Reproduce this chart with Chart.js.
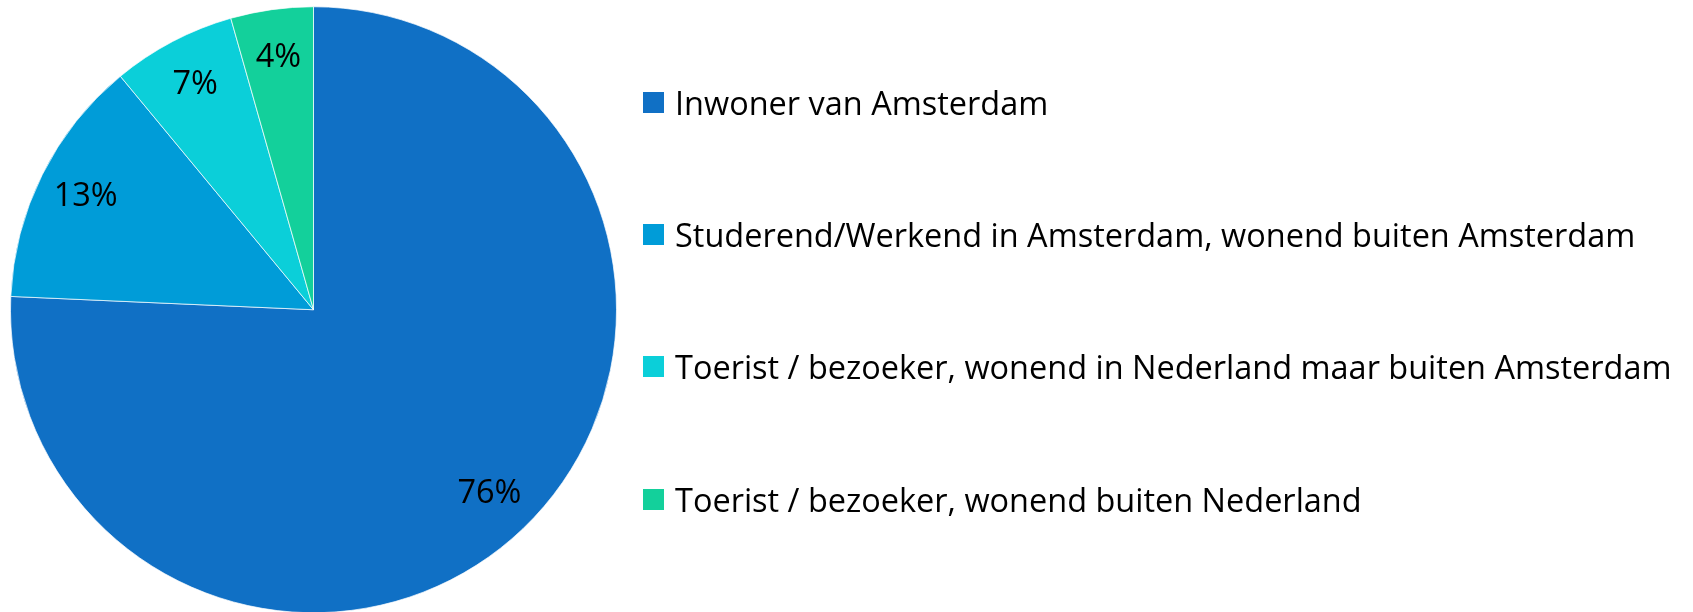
<!DOCTYPE html>
<html lang="nl">
<head>
  <meta charset="UTF-8" />
  <title>Herkomst respondenten</title>
  <style>
    html, body { margin: 0; padding: 0; background: #ffffff; }
    #wrap { position: relative; width: 1693px; height: 612px; }
    #legend { position: absolute; left: 0; top: 0; width: 100%; height: 100%; pointer-events: none; }
    .lg-item { position: absolute; display: flex; align-items: center; height: 44px; white-space: nowrap; color: #000; font-family: "Open Sans", sans-serif; }
    .lg-box { display: inline-block; flex: none; }
  </style>
</head>
<body>
  <div id="wrap">
    <canvas id="pieChart"></canvas>
    <div id="legend"></div>
  </div>

  <script src="https://cdn.jsdelivr.net/npm/chart.js"></script>
  <script>
    const labels = [
      "Inwoner van Amsterdam",
      "Studerend/Werkend in Amsterdam, wonend buiten Amsterdam",
      "Toerist / bezoeker, wonend in Nederland maar buiten Amsterdam",
      "Toerist / bezoeker, wonend buiten Nederland"
    ];
    const values = [75.7, 13.3, 6.6, 4.4];
    const colors = ["#1070c5", "#009cd8", "#0bcfd9", "#13d09b"];

    const FONT = "Open Sans";
    const LABEL_FS = 32.5;
    const CX = 313.5, CY = 310.5, R = 303;
    const BOX = 21, BOX_LEFT = 643, TEXT_LEFT = 675;
    const ROW_TOP = 102.5, ROW = 132.2;

    // legend font sized so the longest line ends where the original does
    const m = document.createElement("canvas").getContext("2d");
    m.font = "100px '" + FONT + "'";
    const longest = Math.max(...labels.map(l => m.measureText(l).width));
    const LEGEND_FS = 997 / longest * 100;

    const sliceLabels = {
      id: "sliceLabels",
      afterDatasetsDraw(chart) {
        const ctx = chart.ctx;
        const meta = chart.getDatasetMeta(0);
        ctx.save();
        ctx.font = LABEL_FS + "px '" + FONT + "'";
        ctx.fillStyle = "#000000";
        ctx.textAlign = "center";
        ctx.textBaseline = "middle";
        meta.data.forEach((arc, i) => {
          const p = arc.getProps(["x", "y", "startAngle", "endAngle", "outerRadius"], true);
          const mid = (p.startAngle + p.endAngle) / 2;
          const r = p.outerRadius * 0.84;
          ctx.fillText(Math.round(values[i]) + "%", p.x + Math.cos(mid) * r, p.y + Math.sin(mid) * r);
        });
        ctx.restore();
      }
    };

    // html legend built from the chart's own legend items
    const htmlLegend = {
      id: "htmlLegend",
      afterUpdate(chart) {
        const box = document.getElementById("legend");
        box.innerHTML = "";
        const items = chart.options.plugins.legend.labels.generateLabels(chart);
        items.forEach((item, i) => {
          const row = document.createElement("div");
          row.className = "lg-item";
          row.style.left = BOX_LEFT + "px";
          row.style.top = (ROW_TOP + i * ROW - 22) + "px";
          row.style.fontSize = LEGEND_FS + "px";
          const sw = document.createElement("span");
          sw.className = "lg-box";
          sw.style.width = BOX + "px";
          sw.style.height = BOX + "px";
          sw.style.background = item.fillStyle;
          sw.style.marginRight = (TEXT_LEFT - BOX_LEFT - BOX) + "px";
          const txt = document.createElement("span");
          txt.textContent = item.text;
          row.appendChild(sw);
          row.appendChild(txt);
          box.appendChild(row);
        });
      }
    };

    new Chart(document.getElementById("pieChart"), {
      type: "pie",
      data: {
        labels: labels,
        datasets: [{
          data: values,
          backgroundColor: colors,
          borderColor: "rgba(255,255,255,0.7)",
          borderWidth: 1,
          radius: R,
          clip: false
        }]
      },
      options: {
        responsive: true,
        maintainAspectRatio: false,
        animation: false,
        layout: {
          padding: { left: CX - R, right: 1693 - (CX + R), top: CY - R, bottom: 612 - (CY + R) }
        },
        plugins: {
          tooltip: { enabled: false },
          legend: { display: false }
        }
      },
      plugins: [sliceLabels, htmlLegend]
    });
  </script>
</body>
</html>
